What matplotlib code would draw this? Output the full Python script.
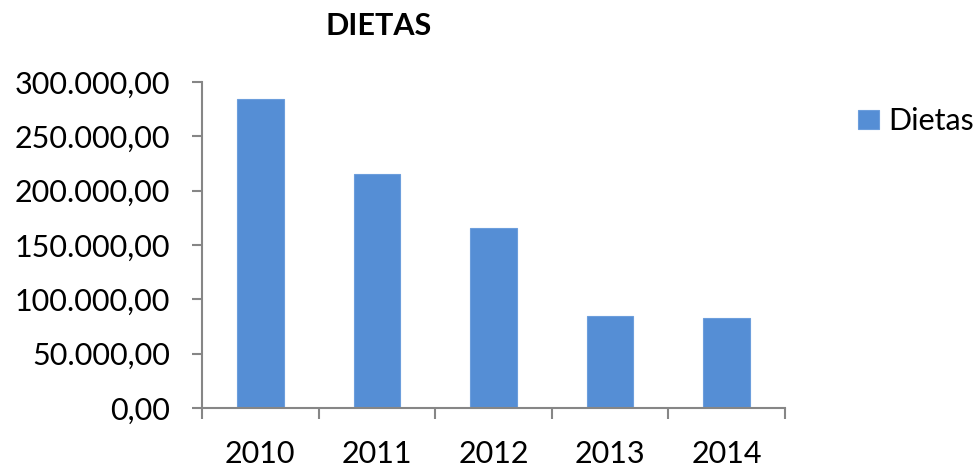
import numpy as np
import matplotlib.pyplot as plt
from matplotlib.ticker import FuncFormatter

anios = ["2010", "2011", "2012", "2013", "2014"]
dietas = [284300, 215500, 165500, 85000, 83000]

plt.rcParams['font.family'] = ['Lato', 'DejaVu Sans']

def formato_es(v, pos):
    s = f"{v:,.2f}"
    return s.replace(",", "X").replace(".", ",").replace("X", ".")

fig = plt.figure(figsize=(9.77, 4.68), dpi=100)
ax = fig.add_axes([202/977, 1 - 408/468, (785-202)/977, (408-82)/468])

x = np.arange(len(anios))
ax.bar(x, dietas, width=0.4, color="#558ED5", edgecolor="#6C9EDC", linewidth=0.8, label="Dietas")

ax.set_xlim(-0.5, len(anios) - 0.5)
ax.set_ylim(0, 300000)
ax.set_yticks(np.arange(0, 300001, 50000))
ax.yaxis.set_major_formatter(FuncFormatter(formato_es))

ax.set_xticks(x)
ax.set_xticklabels(anios)
ax.set_xticks(np.arange(-0.5, len(anios)), minor=True)
ax.tick_params(axis='x', which='major', length=0, pad=23, labelsize=22)
ax.tick_params(axis='x', which='minor', length=8, width=1.5, color="#868686")
ax.tick_params(axis='y', length=7, width=1.5, color="#868686", labelsize=22, pad=16)

for lado in ["top", "right"]:
    ax.spines[lado].set_visible(False)
for lado in ["left", "bottom"]:
    ax.spines[lado].set_color("#868686")
    ax.spines[lado].set_linewidth(1.5)

fig.text(379/977, 1 - 35/468, "DIETAS", ha="center", va="baseline", fontsize=22, fontweight="bold")

fig.legend(loc="center left", bbox_to_anchor=(858/977, 1 - 121/468), frameon=False,
           fontsize=22, handlelength=0.69, handleheight=0.6, handletextpad=0.3,
           borderpad=0, borderaxespad=0)

fig.savefig("out.png", dpi=100)
